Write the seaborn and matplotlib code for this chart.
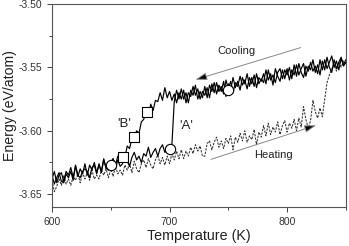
import matplotlib
matplotlib.use("Agg")
import matplotlib.pyplot as plt
from matplotlib.ticker import MultipleLocator, FormatStrFormatter
import seaborn as sns
import pandas as pd
import numpy as np

# Temperature grid (K), 2 K steps, 600..850
temperature = np.arange(600, 851, 2)

# Cooling run 'A' (solid) - jumps down near 704 K
cool_a = [
    -3.635, -3.642, -3.637, -3.633, -3.640,
    -3.641, -3.634, -3.637, -3.632, -3.639,
    -3.627, -3.635, -3.637, -3.632, -3.630,
    -3.632, -3.637, -3.629, -3.627, -3.634,
    -3.626, -3.633, -3.623, -3.629, -3.631,
    -3.625, -3.622, -3.630, -3.623, -3.628,
    -3.626, -3.618, -3.624, -3.628, -3.621,
    -3.617, -3.623, -3.620, -3.625, -3.618,
    -3.620, -3.613, -3.621, -3.617, -3.614,
    -3.620, -3.614, -3.611, -3.617, -3.615,
    -3.613, -3.611, -3.577, -3.568, -3.575,
    -3.567, -3.575, -3.570, -3.578, -3.568,
    -3.572, -3.564, -3.575, -3.569, -3.574,
    -3.565, -3.574, -3.564, -3.569, -3.562,
    -3.571, -3.564, -3.569, -3.561, -3.573,
    -3.563, -3.568, -3.558, -3.566, -3.561,
    -3.568, -3.558, -3.563, -3.555, -3.565,
    -3.558, -3.565, -3.555, -3.563, -3.559,
    -3.562, -3.552, -3.560, -3.555, -3.564,
    -3.551, -3.557, -3.561, -3.552, -3.559,
    -3.551, -3.560, -3.552, -3.556, -3.548,
    -3.556, -3.551, -3.547, -3.557, -3.549,
    -3.552, -3.544, -3.554, -3.548, -3.556,
    -3.545, -3.552, -3.542, -3.550, -3.554,
    -3.544, -3.551, -3.546, -3.542, -3.549,
    -3.546,
]

# Cooling run 'B' (solid) - gradual drop 690..655 K
cool_b = [
    -3.638, -3.632, -3.641, -3.635, -3.633,
    -3.640, -3.632, -3.635, -3.629, -3.637,
    -3.628, -3.636, -3.630, -3.634, -3.626,
    -3.635, -3.627, -3.631, -3.625, -3.633,
    -3.627, -3.632, -3.622, -3.630, -3.625,
    -3.629, -3.622, -3.627, -3.620, -3.624,
    -3.619, -3.621, -3.612, -3.614, -3.606,
    -3.605, -3.600, -3.602, -3.593, -3.591,
    -3.586, -3.588, -3.579, -3.584, -3.576,
    -3.577, -3.570, -3.576, -3.566, -3.574,
    -3.569, -3.576, -3.571, -3.578, -3.570,
    -3.575, -3.568, -3.578, -3.570, -3.573,
    -3.565, -3.572, -3.567, -3.575, -3.569,
    -3.572, -3.566, -3.574, -3.563, -3.570,
    -3.562, -3.569, -3.565, -3.571, -3.560,
    -3.567, -3.561, -3.570, -3.562, -3.565,
    -3.557, -3.564, -3.560, -3.567, -3.558,
    -3.563, -3.556, -3.566, -3.558, -3.561,
    -3.555, -3.563, -3.552, -3.560, -3.556,
    -3.562, -3.554, -3.551, -3.559, -3.552,
    -3.556, -3.550, -3.559, -3.548, -3.557,
    -3.547, -3.554, -3.558, -3.549, -3.553,
    -3.546, -3.553, -3.549, -3.555, -3.544,
    -3.552, -3.544, -3.551, -3.546, -3.541,
    -3.550, -3.545, -3.552, -3.543, -3.548,
    -3.544,
]

# Heating run (dashed) - jumps up near 832 K
heat = [
    -3.639, -3.648, -3.644, -3.638, -3.643,
    -3.635, -3.642, -3.638, -3.643, -3.636,
    -3.639, -3.634, -3.641, -3.633, -3.638,
    -3.633, -3.639, -3.631, -3.638, -3.635,
    -3.638, -3.631, -3.635, -3.630, -3.637,
    -3.630, -3.636, -3.628, -3.634, -3.631,
    -3.635, -3.627, -3.631, -3.626, -3.633,
    -3.624, -3.630, -3.633, -3.626, -3.623,
    -3.629, -3.622, -3.627, -3.630, -3.623,
    -3.619, -3.626, -3.621, -3.627, -3.620,
    -3.626, -3.618, -3.623, -3.616, -3.622,
    -3.615, -3.622, -3.616, -3.620, -3.613,
    -3.618, -3.611, -3.616, -3.612, -3.620,
    -3.620, -3.610, -3.608, -3.615, -3.609,
    -3.605, -3.613, -3.608, -3.614, -3.606,
    -3.610, -3.604, -3.615, -3.605, -3.609,
    -3.602, -3.608, -3.600, -3.609, -3.604,
    -3.607, -3.599, -3.611, -3.601, -3.605,
    -3.596, -3.604, -3.594, -3.603, -3.597,
    -3.601, -3.593, -3.603, -3.596, -3.592,
    -3.601, -3.594, -3.598, -3.591, -3.600,
    -3.590, -3.597, -3.581, -3.591, -3.598,
    -3.592, -3.576, -3.585, -3.590, -3.582,
    -3.589, -3.575, -3.562, -3.556, -3.551,
    -3.548, -3.553, -3.546, -3.550, -3.545,
    -3.547,
]

# Open markers
circle_t = [650, 700, 750]
circle_e = [-3.627, -3.614, -3.568]
square_t = [660, 670, 681]
square_e = [-3.621, -3.605, -3.585]

sns.set_style("ticks")
plt.rcParams['font.family'] = ['Liberation Sans', 'DejaVu Sans']
plt.rcParams['axes.unicode_minus'] = False

fig = plt.figure(figsize=(3.49, 2.46), dpi=100)
ax = fig.add_axes([0.149, 0.159, 0.842, 0.825])

df = pd.DataFrame({'T': temperature, 'A': cool_a, 'B': cool_b, 'H': heat})

sns.lineplot(data=df, x='T', y='H', ax=ax, color='#333333', lw=0.75,
             linestyle=(0, (2.2, 1.2)))
sns.lineplot(data=df, x='T', y='B', ax=ax, color='black', lw=0.85)
sns.lineplot(data=df, x='T', y='A', ax=ax, color='black', lw=0.85)

sns.scatterplot(x=circle_t, y=circle_e, ax=ax, marker='o', s=55,
                facecolor='white', edgecolor='black', linewidth=0.8, zorder=5)
sns.scatterplot(x=square_t, y=square_e, ax=ax, marker='s', s=42,
                facecolor='white', edgecolor='black', linewidth=0.8, zorder=5)

# Arrows
arrow_kw = dict(arrowstyle='-|>,head_length=0.7,head_width=0.22',
                fc='black', ec='#888888', lw=0.7)
ax.annotate('', xy=(719.7, -3.5604), xytext=(813.7, -3.5338), arrowprops=arrow_kw)
ax.annotate('', xy=(827, -3.595), xytext=(733, -3.6232), arrowprops=arrow_kw)

ax.text(757, -3.537, 'Cooling', ha='center', va='center', fontsize=8, color='#222222')
ax.text(788, -3.619, 'Heating', ha='center', va='center', fontsize=8, color='#222222')
ax.text(661, -3.595, "'B'", ha='center', va='center', fontsize=9.5, color='#222222')
ax.text(714, -3.5965, "'A'", ha='center', va='center', fontsize=9.5, color='#222222')

ax.set_xlim(600, 850)
ax.set_ylim(-3.66, -3.50)
ax.xaxis.set_major_locator(MultipleLocator(100))
ax.xaxis.set_minor_locator(MultipleLocator(50))
ax.yaxis.set_major_locator(MultipleLocator(0.05))
ax.yaxis.set_minor_locator(MultipleLocator(0.025))
ax.yaxis.set_major_formatter(FormatStrFormatter('%.2f'))

ax.tick_params(which='both', direction='out', colors='#444444', labelsize=7.5,
               labelcolor='#333333', width=0.7)
ax.tick_params(which='major', length=3.5)
ax.tick_params(which='minor', length=2)
for s in ax.spines.values():
    s.set_color('#555555')
    s.set_linewidth(0.8)

ax.set_xlabel('Temperature (K)', fontsize=10.3, color='#222222', labelpad=2)
ax.set_ylabel('Energy (eV/atom)', fontsize=10.2, color='#222222', labelpad=1.5)

fig.savefig('out.png', dpi=100)
